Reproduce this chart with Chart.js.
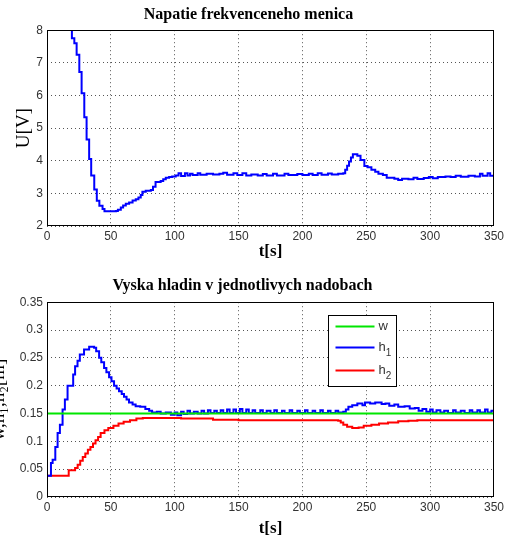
<!DOCTYPE html>
<html>
<head>
<meta charset="utf-8">
<script src="https://cdn.jsdelivr.net/npm/chart.js@4.4.0/dist/chart.umd.min.js"></script>
<style>
html, body { margin: 0; padding: 0; background: #fff; overflow: hidden; }
#wrap { position: relative; width: 507px; height: 539px; overflow: hidden; }
#uChart { position: absolute; left: 0; top: 0; }
#hChart { position: absolute; left: -12px; top: 262px; }
</style>
</head>
<body>
<div id="wrap">
  <canvas id="uChart" width="507" height="262"></canvas>
  <canvas id="hChart" width="519" height="277"></canvas>
</div>
<script>
// --- top plot: voltage of the frequency converter (zero-order hold samples)
const uTime = [0, 8, 14, 17.5, 19.5, 21.4, 23.2, 25.3, 27.1, 29.2, 31, 33, 34.6, 37, 39, 41, 43.5, 45, 54,
  55.5, 57.8, 59.6, 61.7, 64.3, 67, 69.5, 71.6, 73.4, 74.7, 77.3, 81.3, 83, 85, 89, 91, 93, 95.6, 98, 100.8,
  103, 105, 108, 110, 112, 114, 118, 120, 125, 130, 135, 138, 141, 146, 149, 153, 156, 160, 165, 169, 172,
  177, 180, 186, 189, 196, 200, 205, 208, 212, 215, 220, 223, 228, 232, 233.5, 235, 236.5, 238, 239.5, 243,
  245.5, 248.5, 251, 254, 257, 259.5, 263, 266, 272, 275, 278, 283, 287, 290, 295, 299, 302, 306, 312, 316,
  320, 324, 330, 335, 339, 341, 345, 347, 350];
const uVolt = [11, 10.3, 9.2, 8.3, 7.75, 7.6, 7.25, 6.72, 6.07, 5.33, 4.65, 4.05, 3.55, 3.12, 2.77, 2.62, 2.52, 2.45, 2.46,
  2.5, 2.57, 2.63, 2.68, 2.72, 2.78, 2.82, 2.87, 2.95, 3.05, 3.08, 3.1, 3.2, 3.35, 3.38, 3.43, 3.48, 3.5, 3.52, 3.55,
  3.62, 3.53, 3.62, 3.55, 3.6, 3.56, 3.62, 3.57, 3.6, 3.58, 3.6, 3.63, 3.57, 3.62, 3.56, 3.62, 3.55, 3.58, 3.55, 3.59, 3.55,
  3.6, 3.55, 3.6, 3.56, 3.59, 3.56, 3.6, 3.56, 3.62, 3.57, 3.61, 3.58, 3.6, 3.62, 3.72, 3.85, 3.98, 4.1, 4.2, 4.15,
  4.02, 3.84, 3.8, 3.72, 3.66, 3.6, 3.56, 3.48, 3.45, 3.41, 3.45, 3.43, 3.48, 3.44, 3.47, 3.5, 3.46, 3.5, 3.52, 3.5,
  3.54, 3.51, 3.54, 3.52, 3.6, 3.54, 3.62, 3.54, 3.54];

// --- bottom plot: water levels
const wTime = [0, 350];
const wLevel = [0.15, 0.15];

const h1Time = [0, 3.1, 4.4, 6.5, 8.3, 10.1, 12.2, 14, 16.1, 20.5, 22, 23.9, 25.7, 29, 33, 36.9, 38.5, 40.8, 42.5,
  44.7, 46.5, 48.6, 50.5, 52.5, 54.5, 56.4, 58.5, 60.3, 62.3, 64.2, 67, 69.4, 73, 77, 80, 82.3, 86, 89, 93, 97,
  100, 102, 105, 107, 110, 112, 115, 118, 121, 123, 126, 128, 131, 133, 136, 138, 141, 143, 146, 148, 151, 153,
  156, 158, 161, 163, 167, 169, 172, 175, 178, 180, 184, 186, 190, 192, 196, 198, 202, 204, 208, 210, 214, 216,
  220, 222, 226, 228, 232, 234, 236, 239, 243, 247, 249, 253, 257, 262, 265, 268, 272, 275, 280, 284, 288, 291,
  294, 297, 300, 302, 305, 308, 311, 314, 318, 320, 324, 327, 331, 333, 337, 339, 343, 345, 348, 350];
const h1Level = [0.038, 0.061, 0.067, 0.09, 0.115, 0.13, 0.157, 0.175, 0.2, 0.22, 0.235, 0.245, 0.256, 0.265, 0.27,
  0.268, 0.262, 0.25, 0.242, 0.232, 0.224, 0.215, 0.208, 0.2, 0.195, 0.19, 0.185, 0.18, 0.175, 0.17, 0.166, 0.163,
  0.162, 0.158, 0.155, 0.152, 0.153, 0.15, 0.152, 0.148, 0.152, 0.147, 0.153, 0.149, 0.155, 0.15, 0.153, 0.15,
  0.155, 0.15, 0.156, 0.151, 0.155, 0.151, 0.156, 0.151, 0.157, 0.151, 0.157, 0.151, 0.158, 0.151, 0.157, 0.151,
  0.156, 0.151, 0.156, 0.151, 0.155, 0.151, 0.156, 0.151, 0.155, 0.151, 0.156, 0.151, 0.155, 0.151, 0.156, 0.151,
  0.155, 0.151, 0.156, 0.151, 0.155, 0.151, 0.155, 0.152, 0.153, 0.157, 0.162, 0.165, 0.168, 0.165, 0.17, 0.168,
  0.17, 0.167, 0.168, 0.164, 0.166, 0.162, 0.163, 0.159, 0.16, 0.155, 0.158, 0.153, 0.157, 0.152, 0.156, 0.152,
  0.155, 0.151, 0.156, 0.152, 0.155, 0.151, 0.156, 0.152, 0.156, 0.152, 0.157, 0.152, 0.155, 0.155];

const h2Time = [0, 17, 22, 24, 26, 28, 30, 32, 34, 36, 38, 40, 42, 45, 48, 52, 56, 60, 65, 70, 75, 105, 130, 150,
  228, 230, 232, 235, 239, 244, 248, 254, 260, 267, 275, 283, 290, 350];
const h2Level = [0.038, 0.048, 0.052, 0.058, 0.065, 0.072, 0.078, 0.085, 0.09, 0.096, 0.102, 0.108, 0.115, 0.12,
  0.124, 0.128, 0.132, 0.135, 0.138, 0.141, 0.142, 0.141, 0.139, 0.138, 0.137, 0.134, 0.13, 0.126, 0.124, 0.125,
  0.128, 0.13, 0.132, 0.134, 0.136, 0.137, 0.138, 0.137];

const seriesLabels = ['w', 'h_1', 'h_2'];
const seriesColors = ['#00e600', '#0000ff', '#ff0000'];
const xTicks = [0, 50, 100, 150, 200, 250, 300, 350];

function pts(t, v) { return t.map((x, i) => ({ x: x, y: v[i] })); }

const serif = '"Liberation Serif", "Times New Roman", serif';
const sans = '"Liberation Sans", Arial, sans-serif';
const tickColor = '#333';
const gridColor = '#555';

// MATLAB-like box around the axes
const framePlugin = {
  id: 'frame',
  afterDatasetsDraw(chart) {
    const a = chart.chartArea, ctx = chart.ctx;
    ctx.save();
    ctx.setLineDash([]);
    ctx.strokeStyle = '#000';
    ctx.lineWidth = 1;
    ctx.strokeRect(Math.round(a.left) + 0.5, Math.round(a.top) + 0.5,
      Math.round(a.right - a.left) - 1, Math.round(a.bottom - a.top) - 1);
    ctx.restore();
  }
};

// legend box inside the plot (top right region)
const boxLegend = {
  id: 'boxLegend',
  afterDraw(chart) {
    if (!chart.options.plugins.boxLegend) return;
    const a = chart.chartArea, ctx = chart.ctx;
    const bx = Math.round(a.left + 281) + 0.5, by = Math.round(a.top + 13) + 0.5;
    ctx.save();
    ctx.setLineDash([]);
    ctx.fillStyle = '#fff';
    ctx.fillRect(bx, by, 68, 71);
    ctx.strokeStyle = '#000';
    ctx.lineWidth = 1;
    ctx.strokeRect(bx, by, 68, 71);
    const rows = [11, 32, 55];
    chart.data.datasets.forEach((ds, i) => {
      const y = by + rows[i];
      ctx.strokeStyle = ds.borderColor;
      ctx.lineWidth = 2;
      ctx.beginPath();
      ctx.moveTo(bx + 7, y);
      ctx.lineTo(bx + 46, y);
      ctx.stroke();
      const parts = ds.label.split('_');
      ctx.fillStyle = tickColor;
      ctx.textBaseline = 'middle';
      ctx.font = '13px ' + sans;
      ctx.fillText(parts[0], bx + 50, y);
      if (parts[1]) {
        const w = ctx.measureText(parts[0]).width;
        ctx.font = '10px ' + sans;
        ctx.fillText(parts[1], bx + 50 + w, y + 6);
      }
    });
    ctx.restore();
  }
};

function xScale() {
  return {
    type: 'linear', min: 0, max: 350,
    afterBuildTicks: s => { s.ticks = xTicks.map(v => ({ value: v })); },
    ticks: { color: tickColor, font: { family: sans, size: 12 }, padding: 3, maxRotation: 0 },
    grid: { color: gridColor, lineWidth: 1, drawTicks: false },
    border: { display: false, dash: [1, 3] },
    title: { display: true, text: 't[s]', color: '#000', font: { family: serif, size: 17, weight: 'bold' }, padding: 0 }
  };
}

function baseOptions(titleText, titlePad) {
  return {
    responsive: false,
    animation: false,
    events: [],
    layout: { padding: { right: 10, left: 0, top: 0, bottom: 0 } },
    plugins: {
      legend: { display: false },
      tooltip: { enabled: false },
      title: {
        display: true, text: titleText, color: '#000',
        font: { family: serif, size: 16, weight: 'bold' },
        padding: titlePad
      }
    },
    elements: { point: { radius: 0 }, line: { borderWidth: 2 } }
  };
}

// top chart
const uOpts = baseOptions('Napatie frekvenceneho menica', { top: 5, bottom: 6 });
uOpts.scales = {
  x: Object.assign(xScale(), { afterFit: s => { s.height = 36; } }),
  y: {
    type: 'linear', min: 2, max: 8,
    ticks: { stepSize: 1, color: tickColor, font: { family: sans, size: 12 }, padding: 4 },
    grid: { color: gridColor, lineWidth: 1, drawTicks: false },
    border: { display: false, dash: [1, 3] },
    title: { display: true, text: 'U[V]', color: '#000', font: { family: serif, size: 19 }, padding: { top: 13, bottom: 0 } },
    afterFit: s => { s.width = 47; }
  }
};

new Chart(document.getElementById('uChart'), {
  type: 'line',
  data: {
    datasets: [{
      label: 'U', data: pts(uTime, uVolt), borderColor: '#0000ff',
      stepped: 'before', fill: false
    }]
  },
  options: uOpts,
  plugins: [framePlugin]
});

// bottom chart
const hOpts = baseOptions('Vyska hladin v jednotlivych nadobach', { top: 14, bottom: 7 });
hOpts.plugins.boxLegend = true;
hOpts.scales = {
  x: Object.assign(xScale(), { afterFit: s => { s.height = 42; } }),
  y: {
    type: 'linear', min: 0, max: 0.35,
    ticks: {
      stepSize: 0.05, color: tickColor, font: { family: sans, size: 12 }, padding: 4,
      callback: v => String(+v.toFixed(2))
    },
    grid: { color: gridColor, lineWidth: 1, drawTicks: false },
    border: { display: false, dash: [1, 3] },
    title: { display: true, text: 'w,h₁,h₂[m]', color: '#000', font: { family: serif, size: 19 }, padding: { top: 0, bottom: 0 } },
    afterFit: s => { s.width = 59; }
  }
};

new Chart(document.getElementById('hChart'), {
  type: 'line',
  data: {
    datasets: [
      { label: seriesLabels[0], data: pts(wTime, wLevel), borderColor: seriesColors[0], fill: false },
      { label: seriesLabels[1], data: pts(h1Time, h1Level), borderColor: seriesColors[1], stepped: 'before', fill: false },
      { label: seriesLabels[2], data: pts(h2Time, h2Level), borderColor: seriesColors[2], stepped: 'before', fill: false }
    ]
  },
  options: hOpts,
  plugins: [framePlugin, boxLegend]
});
</script>
</body>
</html>
